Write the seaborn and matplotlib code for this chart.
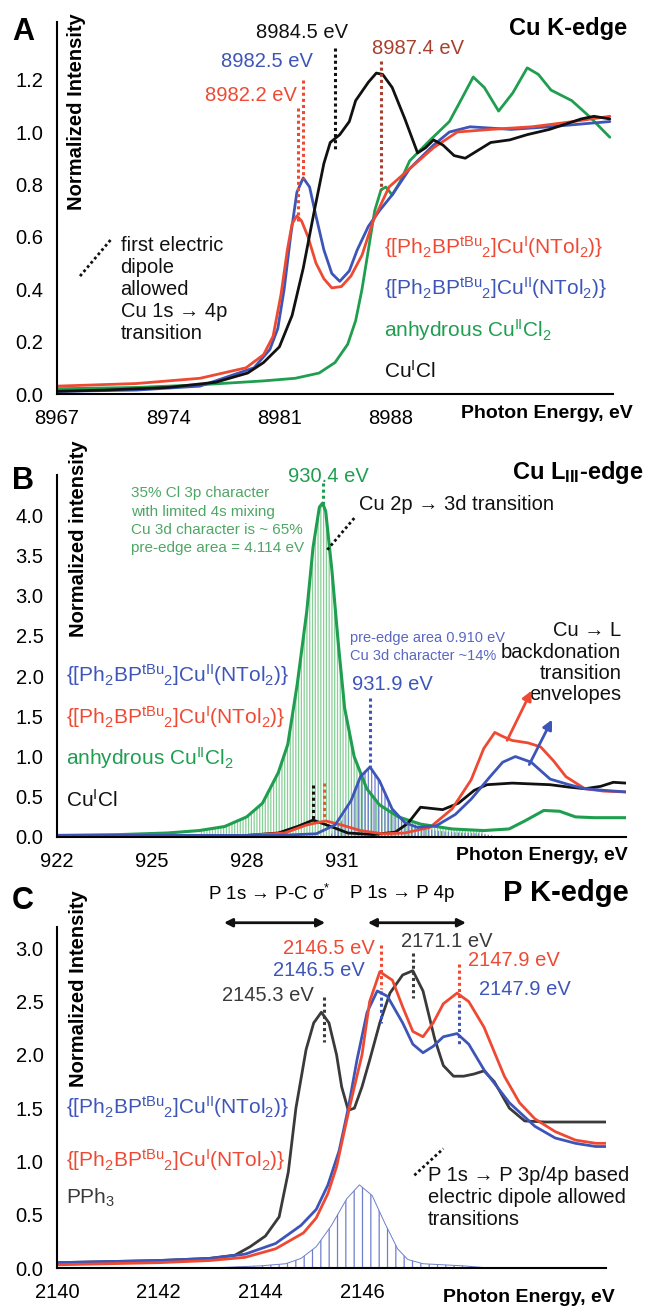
import numpy as np
import seaborn as sns
import matplotlib.pyplot as plt
from matplotlib.ticker import FixedLocator, MultipleLocator, AutoMinorLocator

# ---------------- data: panel A, Cu K-edge ----------------
a_cucl_e = [8967, 8970, 8974, 8977, 8979, 8980, 8981, 8981.8, 8982.5, 8983.2, 8983.8, 8984.2,
            8984.8, 8985.4, 8985.8, 8986.6, 8987.1, 8987.5, 8988.1, 8988.9, 8989.7, 8990.2,
            8990.7, 8991.3, 8992, 8992.7, 8993.5, 8994.3, 8995.5, 8996.6, 8998, 8999, 9000,
            9000.8, 9001.8]
a_cucl_v = [0.01, 0.015, 0.025, 0.045, 0.08, 0.12, 0.18, 0.3, 0.48, 0.7, 0.88, 0.96,
            0.99, 1.04, 1.12, 1.19, 1.225, 1.22, 1.17, 1.05, 0.92, 0.94,
            0.97, 0.95, 0.91, 0.90, 0.93, 0.96, 0.97, 0.99, 1.01, 1.03, 1.05,
            1.06, 1.05]

a_cu1_e = [8967, 8972, 8976, 8978.9, 8980, 8980.6, 8981.1, 8981.5, 8981.8, 8982.1, 8982.4,
           8982.8, 8983.3, 8983.8, 8984.3, 8984.9, 8985.5, 8986.2, 8986.9, 8987.9, 8989.2,
           8990.7, 8992.2, 8994.3, 8996.9, 8999.5, 9001.8]
a_cu1_v = [0.03, 0.04, 0.06, 0.10, 0.15, 0.22, 0.38, 0.55, 0.65, 0.68, 0.66,
           0.6, 0.5, 0.44, 0.405, 0.41, 0.45, 0.53, 0.66, 0.79, 0.86,
           0.94, 1.0, 1.01, 1.02, 1.04, 1.06]

a_cu2_e = [8967, 8972, 8976, 8979.4, 8980.4, 8980.9, 8981.3, 8981.7, 8982.1, 8982.5, 8982.9,
           8983.3, 8983.8, 8984.3, 8984.8, 8985.4, 8985.9, 8986.6, 8987.3, 8988.1, 8989.2,
           8990.7, 8991.7, 8993, 8995.6, 8998, 9001.8]
a_cu2_v = [0.01, 0.015, 0.03, 0.1, 0.17, 0.25, 0.4, 0.6, 0.77, 0.825, 0.79,
           0.68, 0.55, 0.46, 0.43, 0.47, 0.55, 0.64, 0.7, 0.76, 0.86,
           0.95, 1.0, 1.02, 1.01, 1.02, 1.04]

a_cucl2_e = [8967, 8972, 8976, 8980, 8982, 8983.5, 8984.5, 8985.3, 8985.8, 8986.2, 8986.6,
             8987.0, 8987.4, 8987.7, 8988.1, 8988.6, 8989.2, 8990.5, 8991.7, 8992.5, 8993.2,
             8993.9, 8994.8, 8995.7, 8996.6, 8997.3, 8998.1, 8999.4, 9000.5, 9001.8]
a_cucl2_v = [0.02, 0.025, 0.035, 0.05, 0.06, 0.08, 0.12, 0.19, 0.28, 0.4, 0.55,
             0.7, 0.78, 0.79, 0.76, 0.81, 0.89, 0.97, 1.04, 1.13, 1.21,
             1.17, 1.08, 1.15, 1.245, 1.22, 1.16, 1.12, 1.06, 0.98]

a_peak_labels = ['8982.2 eV', '8982.5 eV', '8984.5 eV', '8987.4 eV']
a_peak_e = [8982.2, 8982.5, 8984.5, 8987.4]

# ---------------- data: panel B, Cu L3-edge ----------------
b_cucl2_e = [922, 924, 925.5, 926.5, 927.3, 928, 928.5, 929, 929.3, 929.6, 929.9, 930.1,
             930.3, 930.4, 930.5, 930.7, 930.9, 931.1, 931.4, 931.8, 932.2, 932.8, 933.5,
             934.5, 935.5, 936.3, 936.8, 937.4, 937.9, 938.4, 939, 940]
b_cucl2_v = [0.02, 0.03, 0.05, 0.08, 0.13, 0.25, 0.42, 0.8, 1.15, 1.9, 2.8, 3.6,
             4.1, 4.15, 4.05, 3.3, 2.4, 1.6, 1.0, 0.6, 0.4, 0.25, 0.16,
             0.1, 0.08, 0.1, 0.2, 0.33, 0.32, 0.25, 0.24, 0.24]

b_cucl_e = [922, 928, 929, 929.6, 930.1, 930.6, 931.2, 932, 932.7, 933.1, 933.5, 934.2,
            934.7, 935.2, 935.6, 936.4, 937, 937.6, 938.2, 938.7, 939.2, 939.6, 940]
b_cucl_v = [0.02, 0.02, 0.05, 0.13, 0.21, 0.14, 0.05, 0.03, 0.06, 0.17, 0.37, 0.34,
            0.42, 0.58, 0.65, 0.67, 0.66, 0.65, 0.62, 0.6, 0.63, 0.68, 0.67]

b_cu1_e = [922, 928, 929.2, 929.9, 930.5, 931.0, 931.6, 932.3, 933, 933.8, 934.5, 935.1,
           935.5, 935.85, 936.1, 936.4, 936.9, 937.3, 937.7, 938.1, 938.7, 939.3, 940]
b_cu1_v = [0.02, 0.02, 0.05, 0.15, 0.2, 0.15, 0.08, 0.04, 0.05, 0.12, 0.35, 0.71,
           1.1, 1.3, 1.25, 1.2, 1.17, 1.12, 0.95, 0.75, 0.6, 0.57, 0.56]

b_cu2_e = [922, 929, 930.2, 930.8, 931.3, 931.6, 931.9, 932.2, 932.6, 933, 933.4, 934,
           934.6, 935.1, 935.7, 936.1, 936.5, 937, 937.6, 938.2, 938.7, 939.3, 940]
b_cu2_v = [0.02, 0.02, 0.04, 0.15, 0.45, 0.75, 0.87, 0.7, 0.35, 0.18, 0.12, 0.14,
           0.28, 0.47, 0.75, 0.93, 1.0, 0.93, 0.72, 0.65, 0.6, 0.58, 0.56]

# calculated transition envelopes (drawn as stick hatching)
b_stick_cu2_e = [930.6, 931.0, 931.3, 931.6, 931.9, 932.2, 932.6, 933.0, 933.4, 934.0,
                 934.5, 935.0, 935.5, 936.0]
b_stick_cu2_v = [0.0, 0.2, 0.45, 0.75, 0.87, 0.7, 0.35, 0.2, 0.12, 0.08,
                 0.06, 0.05, 0.04, 0.0]

# ---------------- data: panel C, P K-edge ----------------
c_pph3_e = [2140, 2141, 2142, 2143, 2143.5, 2143.8, 2144.1, 2144.37, 2144.55, 2144.7, 2144.9,
            2145.05, 2145.2, 2145.35, 2145.5, 2145.6, 2145.73, 2145.85, 2146.0, 2146.15,
            2146.35, 2146.55, 2146.8, 2147.0, 2147.2, 2147.43, 2147.6, 2147.8, 2148.0,
            2148.2, 2148.4, 2148.6, 2148.9, 2149.2, 2149.6, 2150.2, 2150.9]
c_pph3_v = [0.05, 0.06, 0.07, 0.09, 0.12, 0.2, 0.3, 0.48, 0.9, 1.5, 2.05,
            2.3, 2.4, 2.3, 2.0, 1.7, 1.48, 1.5, 1.7, 1.95,
            2.3, 2.58, 2.75, 2.79, 2.6, 2.15, 1.9, 1.8, 1.8,
            1.82, 1.85, 1.75, 1.5, 1.38, 1.37, 1.37, 1.37]

c_cu1_e = [2140, 2141, 2142, 2143, 2143.7, 2144.3, 2144.85, 2145.1, 2145.33, 2145.5, 2145.65,
           2145.8, 2146.0, 2146.15, 2146.35, 2146.6, 2146.8, 2147.0, 2147.2, 2147.4, 2147.6,
           2147.87, 2148.1, 2148.4, 2148.8, 2149.1, 2149.4, 2149.8, 2150.2, 2150.6, 2150.9]
c_cu1_v = [0.03, 0.04, 0.05, 0.07, 0.1, 0.18, 0.33, 0.47, 0.7, 0.95, 1.28,
           1.6, 2.0, 2.5, 2.78, 2.7, 2.45, 2.22, 2.17, 2.3, 2.48,
           2.58, 2.5, 2.26, 1.8, 1.55, 1.4, 1.28, 1.2, 1.17, 1.17]

c_cu2_e = [2140, 2141, 2142, 2143, 2143.7, 2144.3, 2144.8, 2145.1, 2145.33, 2145.55, 2145.73,
           2145.9, 2146.1, 2146.3, 2146.5, 2146.8, 2147.0, 2147.2, 2147.4, 2147.6, 2147.87,
           2148.1, 2148.4, 2148.9, 2149.4, 2149.8, 2150.2, 2150.6, 2150.9]
c_cu2_v = [0.05, 0.06, 0.07, 0.09, 0.13, 0.23, 0.4, 0.55, 0.78, 1.1, 1.5,
           1.95, 2.4, 2.6, 2.55, 2.3, 2.1, 2.02, 2.08, 2.17, 2.2,
           2.1, 1.86, 1.55, 1.33, 1.22, 1.17, 1.14, 1.14]

c_stick_e = [2143.0, 2143.5, 2144.0, 2144.5, 2144.8, 2145.1, 2145.4, 2145.7, 2145.95, 2146.2,
             2146.45, 2146.7, 2146.9, 2147.2, 2147.6, 2148.0, 2148.5]
c_stick_v = [0.0, 0.01, 0.02, 0.04, 0.09, 0.2, 0.4, 0.65, 0.78, 0.68,
             0.42, 0.18, 0.08, 0.04, 0.03, 0.02, 0.0]

# ---------------- labels ----------------
lab_cu1 = r'{[Ph$_2$BP$^{tBu}$$_2$]Cu$^{I}$(NTol$_2$)}'
lab_cu2 = r'{[Ph$_2$BP$^{tBu}$$_2$]Cu$^{II}$(NTol$_2$)}'
lab_cucl2 = r'anhydrous Cu$^{II}$Cl$_2$'
lab_cucl = r'Cu$^{I}$Cl'
lab_pph3 = r'PPh$_3$'

# ---------------- style ----------------
sns.set_theme(style='white')
plt.rcParams['font.family'] = ['Liberation Sans', 'DejaVu Sans']
plt.rcParams['mathtext.fontset'] = 'custom'
plt.rcParams['mathtext.rm'] = 'Liberation Sans'
plt.rcParams['mathtext.it'] = 'Liberation Sans:italic'
plt.rcParams['mathtext.bf'] = 'Liberation Sans:bold'
plt.rcParams['mathtext.default'] = 'regular'
plt.rcParams['text.color'] = 'black'
plt.rcParams['xtick.color'] = 'black'
plt.rcParams['ytick.color'] = 'black'
plt.rcParams['hatch.linewidth'] = 0.9

RED = '#ee4a33'
BLUE = '#3d55b8'
GREEN = '#1f9e50'
BLACK = '#111111'
GRAY = '#3a3a3a'
BROWN = '#a8402f'
LGREEN = '#86cf96'
LBLUE = '#6f7fcc'
GREEN_TXT = '#4fa765'
BLUE_TXT = '#5a67c2'

W, H = 647, 1306
fig = plt.figure(figsize=(W / 100, H / 100), dpi=100)


def box(l, t, r, b):
    return fig.add_axes([l / W, 1 - b / H, (r - l) / W, (b - t) / H])


def ftext(x, y, s, **kw):
    fig.text(x / W, 1 - y / H, s, **kw)


def curve(ax, e, v, color, lw=2.0):
    sns.lineplot(x=e, y=v, ax=ax, color=color, linewidth=lw, estimator=None,
                 sort=False, legend=False)


def dots(ax, x, y0, y1, color, lw=2.2):
    ax.plot([x, x], [y0, y1], color=color, lw=lw, ls=(0, (1, 1)), solid_capstyle='butt')


def style(ax, xlim, xmajor, nlab, xminor, ylim, ymajor, yminor):
    ax.set_facecolor('none')
    sns.despine(ax=ax)
    for s in ['left', 'bottom']:
        ax.spines[s].set_color('black')
        ax.spines[s].set_linewidth(1.5)
    ax.set_xlim(*xlim)
    ax.set_ylim(*ylim)
    ax.xaxis.set_major_locator(FixedLocator(xmajor))
    ax.set_xticklabels([f'{t:g}' if i < nlab else '' for i, t in enumerate(xmajor)])
    ax.xaxis.set_minor_locator(xminor)
    ax.yaxis.set_major_locator(FixedLocator(ymajor))
    ax.set_yticklabels([f'{t:.1f}' for t in ymajor])
    ax.yaxis.set_minor_locator(MultipleLocator(yminor))
    ax.tick_params(which='major', direction='inout', length=8.6, width=1.3, labelsize=14.5)
    ax.tick_params(which='minor', direction='inout', length=3.8, width=1.1)
    ax.tick_params(axis='x', which='major', pad=6.5)
    ax.tick_params(axis='y', which='major', pad=5.5)
    ax.set_xlabel('')
    ax.set_ylabel('')


# ================= panel A =================
axA = box(57, 22, 613, 394)
curve(axA, a_cucl2_e, a_cucl2_v, GREEN)
curve(axA, a_cu2_e, a_cu2_v, BLUE)
curve(axA, a_cu1_e, a_cu1_v, RED)
curve(axA, a_cucl_e, a_cucl_v, BLACK)
style(axA, (8967, 9002), list(range(8967, 9003, 7)), 4, MultipleLocator(1),
      (0, 1.42), [0, 0.2, 0.4, 0.6, 0.8, 1.0, 1.2], 0.05)

a_mark_span = [(1.09, 0.66, RED), (1.2, 0.82, RED), (1.32, 0.93, BLACK), (1.27, 0.78, BROWN)]
for e, (y0, y1, c) in zip(a_peak_e, a_mark_span):
    dots(axA, e, y0, y1, c)
a_text_pos = [(8979.2, 1.14, RED), (8980.2, 1.27, BLUE), (8982.4, 1.38, BLACK), (8989.7, 1.32, BROWN)]
for s, (x, y, c) in zip(a_peak_labels, a_text_pos):
    axA.text(x, y, s, color=c, fontsize=14.5, ha='center', va='center')

axA.plot([8968.45, 8970.4], [0.45, 0.59], color=BLACK, lw=2, ls=(0, (1, 1)))
axA.text(8971.0, 0.605, 'first electric\ndipole\nallowed\nCu 1s \u2192 4p\ntransition',
         fontsize=14.5, ha='left', va='top', linespacing=1.2, color=BLACK)
for s, y, c in [(lab_cu1, 0.56, RED), (lab_cu2, 0.405, BLUE), (lab_cucl2, 0.245, GREEN),
                (lab_cucl, 0.09, BLACK)]:
    axA.text(8987.6, y, s, color=c, fontsize=15, ha='left', va='center')

ftext(627, 28, 'Cu K-edge', fontsize=17, weight='bold', ha='right', va='center')
ftext(633, 413, 'Photon Energy, eV', fontsize=14, weight='bold', ha='right', va='center')
ftext(76, 13, 'Normalized Intensity', fontsize=14.5, weight='bold', rotation=90,
      ha='center', va='top')
ftext(12, 32, 'A', fontsize=22, weight='bold', ha='left', va='center')

# ================= panel B =================
axB = box(57, 475, 626, 837)
gx = np.array(b_cucl2_e)
gy = np.array(b_cucl2_v)
axB.fill_between(gx, gy, 0, where=(gx >= 926.5) & (gx <= 935.5), facecolor='none',
                 edgecolor=LGREEN, hatch='|' * 6, linewidth=0)
axB.fill_between(b_stick_cu2_e, b_stick_cu2_v, 0, facecolor='none', edgecolor=LBLUE,
                 hatch='|' * 5, linewidth=0)
curve(axB, b_cucl2_e, b_cucl2_v, GREEN, lw=2.2)
curve(axB, b_cucl_e, b_cucl_v, BLACK)
curve(axB, b_cu1_e, b_cu1_v, RED)
curve(axB, b_cu2_e, b_cu2_v, BLUE)
style(axB, (922, 940), list(range(922, 941, 3)), 4, AutoMinorLocator(5),
      (0, 4.5), [0, 0.5, 1.0, 1.5, 2.0, 2.5, 3.0, 3.5, 4.0], 0.1)

dots(axB, 930.4, 4.4, 4.12, GREEN)
dots(axB, 930.1, 0.65, 0.22, BLACK)
dots(axB, 930.45, 0.67, 0.2, '#d9602e')
dots(axB, 931.9, 1.73, 0.87, BLUE)
axB.text(930.6, 4.48, '930.4 eV', color=GREEN, fontsize=14.5, ha='center', va='center')
axB.text(932.6, 1.89, '931.9 eV', color=BLUE, fontsize=14.5, ha='center', va='center')
axB.text(924.34, 4.36, '35% Cl 3p character\nwith limited 4s mixing\nCu 3d character is ~ 65%\n'
         'pre-edge area = 4.114 eV', color=GREEN_TXT, fontsize=11, ha='left', va='top',
         linespacing=1.4)
axB.plot([930.55, 931.46], [3.57, 3.99], color=BLACK, lw=2, ls=(0, (1, 1)))
axB.text(931.56, 4.13, 'Cu 2p \u2192 3d transition', color=BLACK, fontsize=14.5,
         ha='left', va='center')
axB.text(931.27, 2.56, 'pre-edge area 0.910 eV\nCu 3d character ~14%', color=BLUE_TXT,
         fontsize=10.5, ha='left', va='top', linespacing=1.35)
axB.text(939.85, 2.68, 'Cu \u2192 L\nbackdonation\ntransition\nenvelopes', color=BLACK,
         fontsize=14.5, ha='right', va='top', linespacing=1.15)
axB.annotate('', xy=(937.05, 1.85), xytext=(936.2, 1.17),
             arrowprops=dict(arrowstyle='-|>', color=RED, lw=2, mutation_scale=14))
axB.annotate('', xy=(937.7, 1.49), xytext=(936.9, 0.87),
             arrowprops=dict(arrowstyle='-|>', color=BLUE, lw=2, mutation_scale=14))
for s, y, c in [(lab_cu2, 2.01, BLUE), (lab_cu1, 1.49, RED), (lab_cucl2, 0.98, GREEN),
                (lab_cucl, 0.46, BLACK)]:
    axB.text(922.28, y, s, color=c, fontsize=15, ha='left', va='center')

ftext(643, 472, r'Cu L$_{III}$-edge', fontsize=17, weight='bold', ha='right', va='center')
ftext(628, 856, 'Photon Energy, eV', fontsize=14, weight='bold', ha='right', va='center')
ftext(79, 440, 'Normalized intensity', fontsize=14.5, weight='bold', rotation=90,
      ha='center', va='top')
ftext(12, 481, 'B', fontsize=22, weight='bold', ha='left', va='center')

# ================= panel C =================
axC = box(57, 927, 606, 1268)
axC.fill_between(c_stick_e, c_stick_v, 0, facecolor='none', edgecolor=LBLUE,
                 hatch='||', linewidth=0)
curve(axC, c_stick_e, c_stick_v, LBLUE, lw=0.7)
curve(axC, c_pph3_e, c_pph3_v, GRAY)
curve(axC, c_cu2_e, c_cu2_v, BLUE)
curve(axC, c_cu1_e, c_cu1_v, RED)
style(axC, (2140, 2150.8), list(range(2140, 2151, 2)), 4, AutoMinorLocator(5),
      (0, 3.2), [0, 0.5, 1.0, 1.5, 2.0, 2.5, 3.0], 0.1)

dots(axC, 2145.25, 2.54, 2.12, GRAY)
dots(axC, 2146.38, 3.03, 2.62, RED)
dots(axC, 2146.38, 2.6, 2.3, BLUE)
dots(axC, 2147.0, 2.96, 2.53, GRAY)
dots(axC, 2147.9, 2.85, 2.5, RED)
dots(axC, 2147.9, 2.48, 2.1, BLUE)
for s, x, y, c in [('2146.5 eV', 2145.35, 3.0, RED), ('2146.5 eV', 2145.16, 2.79, BLUE),
                   ('2145.3 eV', 2144.15, 2.56, GRAY), ('2171.1 eV', 2147.66, 3.06, GRAY),
                   ('2147.9 eV', 2148.98, 2.89, RED), ('2147.9 eV', 2149.21, 2.61, BLUE)]:
    axC.text(x, y, s, color=c, fontsize=14.5, ha='center', va='center')

axC.text(2142.98, 3.51, 'P 1s \u2192 P-C \u03c3$^{*}$', fontsize=13.5, ha='left', va='center')
axC.text(2145.77, 3.51, 'P 1s \u2192 P 4p', fontsize=13.5, ha='left', va='center')
axC.annotate('', xy=(2143.23, 3.24), xytext=(2145.33, 3.24), annotation_clip=False,
             arrowprops=dict(arrowstyle='<|-|>', color=BLACK, lw=2, mutation_scale=12))
axC.annotate('', xy=(2146.06, 3.24), xytext=(2148.1, 3.24), annotation_clip=False,
             arrowprops=dict(arrowstyle='<|-|>', color=BLACK, lw=2, mutation_scale=12))
axC.plot([2147.03, 2147.6], [0.87, 1.12], color=BLACK, lw=2, ls=(0, (1, 1)))
axC.text(2147.3, 0.96, 'P 1s \u2192 P 3p/4p based\nelectric dipole allowed\ntransitions',
         fontsize=14.5, ha='left', va='top', linespacing=1.2, color=BLACK)
for s, y, c in [(lab_cu2, 1.51, BLUE), (lab_cu1, 1.01, RED), (lab_pph3, 0.66, GRAY)]:
    axC.text(2140.18, y, s, color=c, fontsize=15, ha='left', va='center')

ftext(629, 893, 'P K-edge', fontsize=21, weight='bold', ha='right', va='center')
ftext(615, 1297, 'Photon Energy, eV', fontsize=14, weight='bold', ha='right', va='center')
ftext(79, 890, 'Normalized Intensity', fontsize=14.5, weight='bold', rotation=90,
      ha='center', va='top')
ftext(12, 901, 'C', fontsize=22, weight='bold', ha='left', va='center')

fig.savefig('out.png', dpi=100)
